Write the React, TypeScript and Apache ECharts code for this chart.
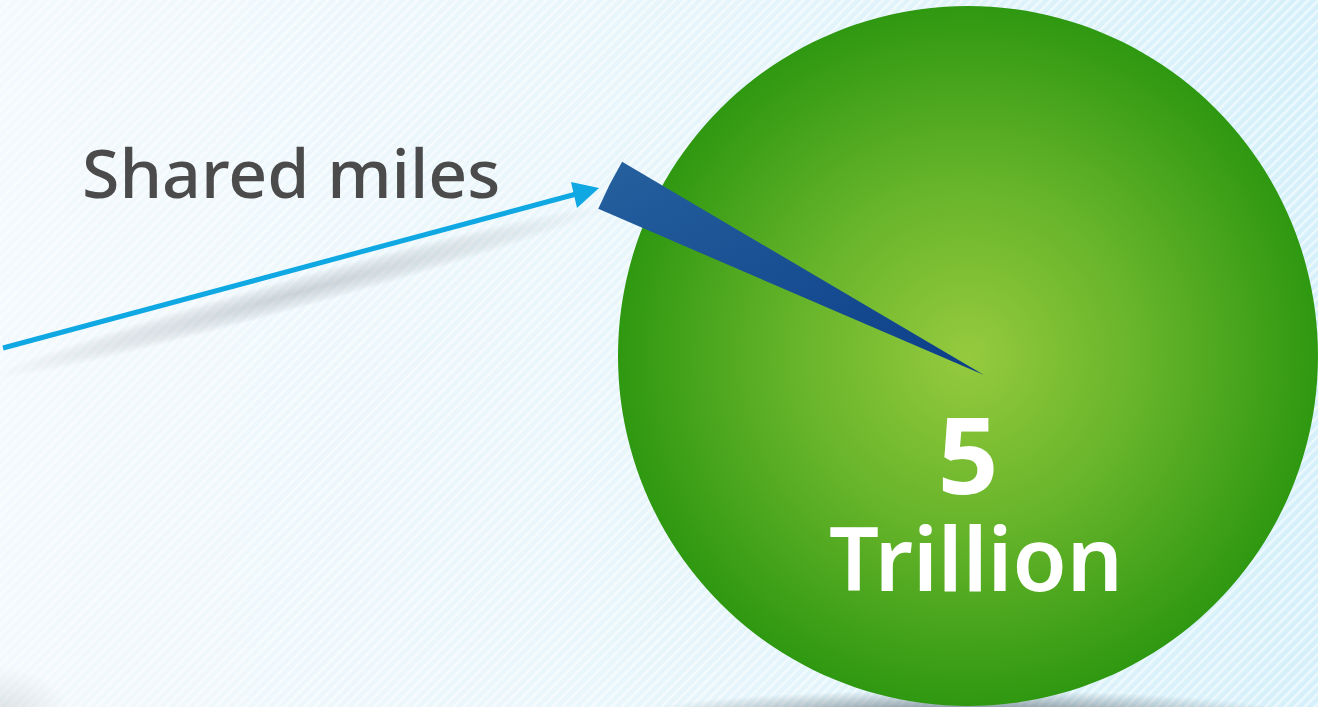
import React, { useEffect, useRef } from "react";
import * as echarts from "echarts";

// Data (trillion miles)
const categories = ["Shared miles", "Other miles"];
const values = [0.1, 4.9];
const totalName = "Total miles";
const unitLabel = "Trillion";

const total = values.reduce((a, b) => a + b, 0);

export default function App() {
  const ref = useRef<HTMLDivElement>(null);

  useEffect(() => {
    if (!ref.current) return;
    const chart = echarts.init(ref.current, null, { renderer: "svg" });

    const greenGradient = new echarts.graphic.RadialGradient(0.5, 0.5, 0.5, [
      { offset: 0, color: "#96ca3e" },
      { offset: 0.5, color: "#66b42a" },
      { offset: 1, color: "#2f9811" },
    ]);
    const blueGradient = new echarts.graphic.LinearGradient(1, 1, 0, 0, [
      { offset: 0, color: "#0c3e88" },
      { offset: 1, color: "#25609e" },
    ]);

    const option: any = {
      animation: false,
      backgroundColor: "transparent",
      graphic: [
        // soft shadow under the big circle
        {
          type: "ellipse",
          z: 0,
          silent: true,
          shape: { cx: 965, cy: 716, rx: 330, ry: 26 },
          style: {
            fill: new echarts.graphic.RadialGradient(0.5, 0.5, 0.5, [
              { offset: 0, color: "rgba(70,85,95,0.85)" },
              { offset: 0.6, color: "rgba(90,105,115,0.35)" },
              { offset: 1, color: "rgba(90,105,115,0)" },
            ]),
          },
        },
        // corner shade bottom-left
        {
          type: "ellipse",
          z: 0,
          silent: true,
          shape: { cx: 0, cy: 712, rx: 70, ry: 45 },
          style: {
            fill: new echarts.graphic.RadialGradient(0.5, 0.5, 0.5, [
              { offset: 0, color: "rgba(130,140,150,0.22)" },
              { offset: 1, color: "rgba(130,140,150,0)" },
            ]),
          },
        },
        // shadow under the arrow
        {
          type: "ellipse",
          z: 0,
          silent: true,
          x: 300,
          y: 292,
          rotation: 0.27,
          shape: { cx: 0, cy: 0, rx: 320, ry: 16 },
          style: {
            fill: new echarts.graphic.RadialGradient(0.5, 0.5, 0.5, [
              { offset: 0, color: "rgba(110,120,130,0.30)" },
              { offset: 0.7, color: "rgba(110,120,130,0.12)" },
              { offset: 1, color: "rgba(110,120,130,0)" },
            ]),
          },
        },
        // arrow
        {
          type: "line",
          z: 50,
          silent: true,
          shape: { x1: 3, y1: 348, x2: 580, y2: 193 },
          style: { stroke: "#0fa8e2", lineWidth: 5 },
        },
        {
          type: "polygon",
          z: 50,
          silent: true,
          shape: {
            points: [
              [599, 188],
              [571, 182],
              [577, 208],
            ],
          },
          style: { fill: "#0fa8e2" },
        },
        // label of shared slice
        {
          type: "text",
          z: 50,
          silent: true,
          x: 82,
          y: 171,
          style: {
            text: categories[0],
            fill: "#4b4b4b",
            font: '500 68px "Noto Sans"',
            textAlign: "left",
            textVerticalAlign: "middle",
          },
        },
        // total text
        {
          type: "text",
          z: 50,
          silent: true,
          x: 968,
          y: 453,
          style: {
            text: String(total),
            fill: "#ffffff",
            font: 'bold 106px "Noto Sans"',
            textAlign: "center",
            textVerticalAlign: "middle",
          },
        },
        {
          type: "text",
          z: 50,
          silent: true,
          x: 976,
          y: 557,
          style: {
            text: unitLabel,
            fill: "#ffffff",
            font: '600 88px "Noto Sans"',
            textAlign: "center",
            textVerticalAlign: "middle",
          },
        },
      ],
      series: [
        {
          name: totalName,
          type: "pie",
          silent: true,
          center: [968, 356],
          radius: 350,
          label: { show: false },
          labelLine: { show: false },
          emphasis: { disabled: true },
          itemStyle: { borderWidth: 0, color: greenGradient },
          data: [{ name: totalName, value: total }],
          z: 2,
        },
        {
          name: categories[0],
          type: "pie",
          silent: true,
          center: [984, 375],
          radius: 420,
          startAngle: 156.7,
          clockwise: true,
          label: { show: false },
          labelLine: { show: false },
          emphasis: { disabled: true },
          data: [
            { name: categories[0], value: values[0], itemStyle: { color: blueGradient, borderWidth: 0 } },
            { name: categories[1], value: values[1], itemStyle: { color: "rgba(0,0,0,0)", borderWidth: 0 } },
          ],
          z: 3,
        },
      ],
    };

    chart.setOption(option);
    return () => chart.dispose();
  }, []);

  return (
    <div
      ref={ref}
      style={{
        position: "fixed",
        left: 0,
        top: 0,
        width: 1318,
        height: 707,
        background:
          "repeating-linear-gradient(135deg, rgba(255,255,255,0.5) 0px, rgba(255,255,255,0.5) 2px, rgba(255,255,255,0) 3.5px, rgba(255,255,255,0) 7px), linear-gradient(90deg, #f3f9fc 0%, #e9f6fb 45%, #d5f0fa 100%)",
      }}
    />
  );
}
